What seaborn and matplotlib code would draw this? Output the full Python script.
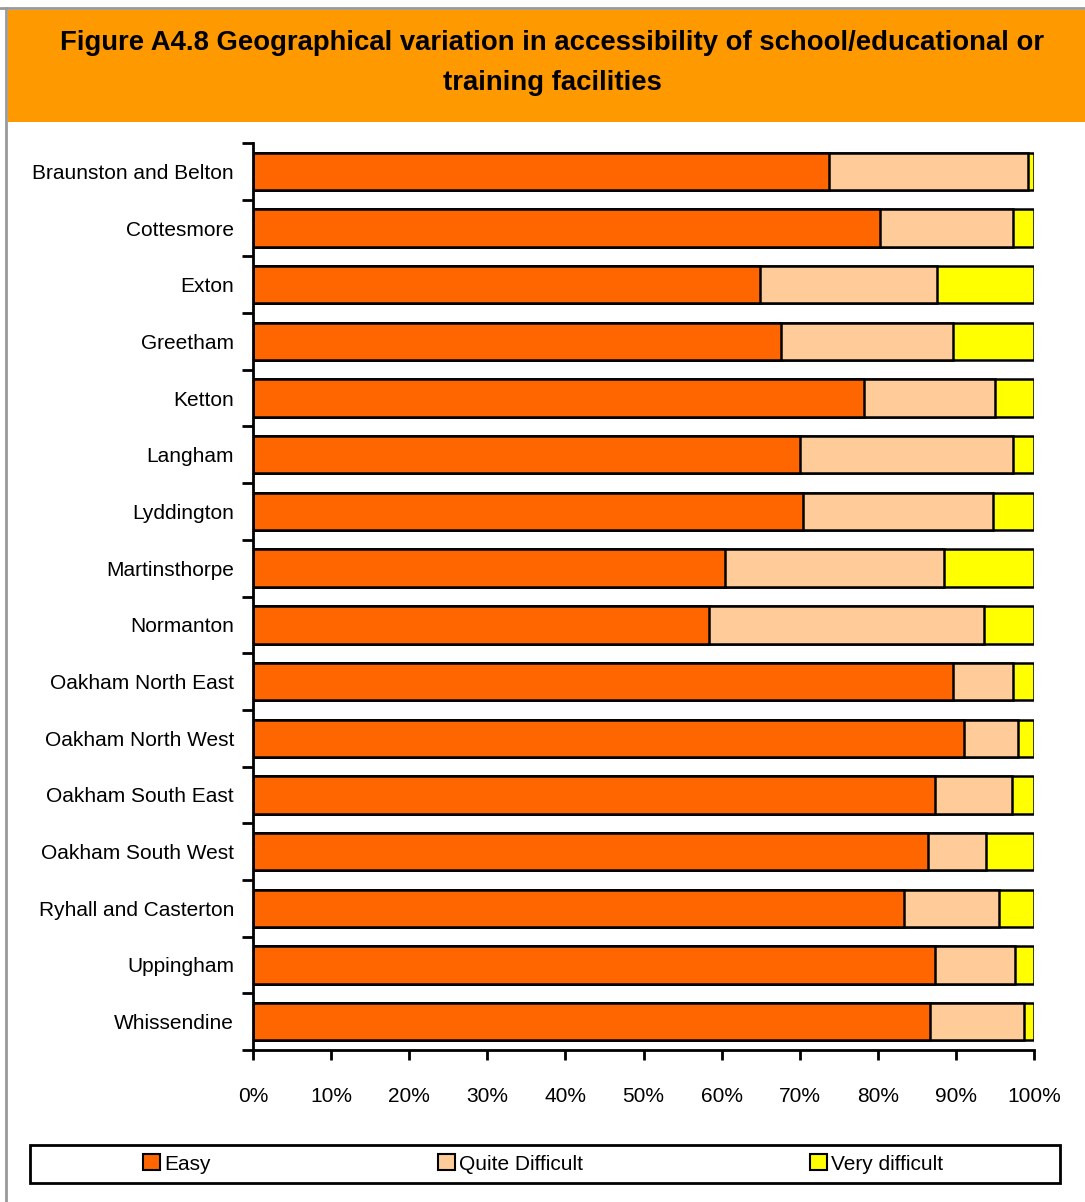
import matplotlib
matplotlib.use("Agg")
import matplotlib.pyplot as plt
from matplotlib.patches import Rectangle
from matplotlib.lines import Line2D
from matplotlib.ticker import FixedLocator, PercentFormatter
import seaborn as sns
import pandas as pd
import numpy as np

wards = ["Braunston and Belton", "Cottesmore", "Exton", "Greetham", "Ketton",
         "Langham", "Lyddington", "Martinsthorpe", "Normanton", "Oakham North East",
         "Oakham North West", "Oakham South East", "Oakham South West",
         "Ryhall and Casterton", "Uppingham", "Whissendine"]
easy = [73.8, 80.3, 64.9, 67.6, 78.2, 70.0, 70.4, 60.4, 58.4, 89.6,
        91.0, 87.3, 86.4, 83.4, 87.3, 86.7]
quite_difficult = [25.4, 17.0, 22.7, 22.0, 16.8, 27.3, 24.4, 28.1, 35.2, 7.7,
                   7.0, 9.9, 7.5, 12.1, 10.3, 12.0]
very_difficult = [0.8, 2.7, 12.4, 10.4, 5.0, 2.7, 5.2, 11.5, 6.4, 2.7,
                  2.0, 2.8, 6.1, 4.5, 2.4, 1.3]

series_names = ["Easy", "Quite Difficult", "Very difficult"]
series_colors = ["#FF6600", "#FFCC99", "#FFFF00"]

sns.set_theme(style="white")
plt.rcParams["font.family"] = ["Liberation Sans", "DejaVu Sans"]
plt.rcParams["text.color"] = "black"
plt.rcParams["xtick.color"] = "black"
plt.rcParams["ytick.color"] = "black"

fig = plt.figure(figsize=(10.85, 12.02), dpi=100)
fig.patch.set_facecolor("white")

# page frame lines and orange title band
fig.add_artist(Line2D([0, 1], [1 - 8 / 1202] * 2, transform=fig.transFigure, color="#999999", lw=2))
fig.add_artist(Line2D([6 / 1085] * 2, [0, 1 - 8 / 1202], transform=fig.transFigure, color="#999999", lw=2))
fig.add_artist(Rectangle((8 / 1085, 1 - 122 / 1202), 1 - 8 / 1085, 112 / 1202,
                         transform=fig.transFigure, facecolor="#FF9900", edgecolor="none"))
fig.text(0.509, 1 - 43 / 1202, "Figure A4.8 Geographical variation in accessibility of school/educational or",
         ha="center", va="center", fontsize=19.8, fontweight="bold", color="black")
fig.text(0.509, 1 - 83 / 1202, "training facilities",
         ha="center", va="center", fontsize=19.8, fontweight="bold", color="black")

ax = fig.add_axes([253 / 1085, 152 / 1202, 781 / 1085, 907 / 1202])

df = pd.DataFrame({"ward": wards, "Easy": easy,
                   "Quite Difficult": quite_difficult, "Very difficult": very_difficult})
cum = df[series_names].cumsum(axis=1)

# stacked horizontal bars: draw longest cumulative first
for name, color in zip(reversed(series_names), reversed(series_colors)):
    sns.barplot(data=cum.assign(ward=df["ward"]), x=name, y="ward", orient="h",
                color=color, edgecolor="black", linewidth=1.8, width=0.66,
                saturation=1, ax=ax, label=name)

ax.set_xlim(0, 100)
ax.set_ylim(len(wards) - 0.5, -0.5)
ax.set_xlabel("")
ax.set_ylabel("")
ax.xaxis.set_major_locator(FixedLocator(np.arange(0, 101, 10)))
ax.xaxis.set_major_formatter(PercentFormatter(decimals=0))
ax.tick_params(axis="x", which="major", direction="out", length=7, width=2,
               color="black", labelsize=15, pad=20, bottom=True, labelcolor="black")
ax.yaxis.set_minor_locator(FixedLocator(np.arange(-0.5, len(wards), 1)))
ax.tick_params(axis="y", which="major", length=0, labelsize=15, pad=13.7, labelcolor="black")
ax.tick_params(axis="y", which="minor", direction="out", length=8, width=2,
               color="black", left=True)
for side in ["top", "right"]:
    ax.spines[side].set_visible(False)
for side in ["left", "bottom"]:
    ax.spines[side].set_color("black")
    ax.spines[side].set_linewidth(2)
ax.grid(False)
if ax.get_legend():
    ax.get_legend().remove()

# legend strip at the bottom
fig.add_artist(Rectangle((30 / 1085, 1 - 1183 / 1202), 1030 / 1085, 38 / 1202,
                         transform=fig.transFigure, facecolor="white",
                         edgecolor="black", linewidth=2))
legend_x = [143, 438, 810]
for name, color, lx in zip(series_names, series_colors, legend_x):
    handle = Rectangle((0, 0), 1, 1, facecolor=color, edgecolor="black", linewidth=1.5)
    fig.legend([handle], [name], loc="center left",
               bbox_to_anchor=(lx / 1085, 1 - 1164 / 1202), frameon=False,
               fontsize=15, handlelength=0.8, handleheight=0.8,
               handletextpad=0.2, borderpad=0, borderaxespad=0, labelcolor="black")

fig.savefig("out.png", dpi=100, facecolor="white")
